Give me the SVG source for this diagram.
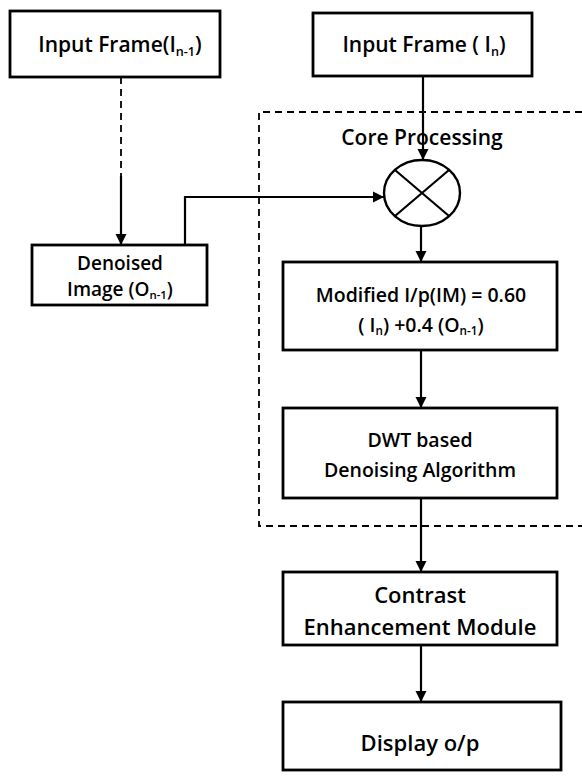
<svg xmlns="http://www.w3.org/2000/svg" width="582" height="776" viewBox="0 0 582 776">
<style>
.box{fill:#fff;stroke:#000;stroke-width:2.8}
.ln{fill:none;stroke:#000;stroke-width:2.2}
.dash{fill:none;stroke:#000;stroke-width:1.8;stroke-dasharray:7 5}
text{font-family:"Open Sans","Liberation Sans",sans-serif;font-weight:600;fill:#000;text-anchor:middle}
.t21{font-size:21px}
.t19d{font-size:19px}
.t22{font-size:22px}
.t19{font-size:19.5px}
.sub{font-size:0.6em}
</style>
<defs>
<marker id="ah" viewBox="0 0 10 10" refX="10" refY="5" markerWidth="5" markerHeight="5.5" orient="auto" markerUnits="strokeWidth">
<path d="M0,0 L10,5 L0,10 z" fill="#000"/>
</marker>
</defs>
<rect width="582" height="776" fill="#fff"/>
<g id="core-region">
<path class="dash" d="M582,112 H259 V526 H582"/>
<text class="t21" x="422" y="145">Core Processing</text>
</g>
<g id="connectors">
<path class="dash" d="M121,77 V176"/>
<path class="ln" d="M121,176 V245" marker-end="url(#ah)"/>
<path class="ln" d="M423,76 V160" marker-end="url(#ah)"/>
<path class="ln" d="M185,245 V197 H384" marker-end="url(#ah)"/>
<path class="ln" d="M421,226 V262" marker-end="url(#ah)"/>
<path class="ln" d="M421,350 V408" marker-end="url(#ah)"/>
<path class="ln" d="M421,498 V572" marker-end="url(#ah)"/>
<path class="ln" d="M421,645 V702" marker-end="url(#ah)"/>
</g>
<g id="input-prev">
<rect class="box" x="10" y="11" width="210" height="66"/>
<text class="t21" x="120" y="52">Input Frame(I<tspan class="sub" dy="4">n-1</tspan><tspan dy="-4">)</tspan></text>
</g>
<g id="input-cur">
<rect class="box" x="313" y="13" width="219" height="63"/>
<text class="t21" x="424" y="52">Input Frame ( I<tspan class="sub" dy="4">n</tspan><tspan dy="-4">)</tspan></text>
</g>
<g id="multiplier">
<ellipse cx="422" cy="193" rx="38" ry="33" fill="#fff" stroke="#000" stroke-width="2.4"/>
<path class="ln" d="M395,170 L449,216 M449,170 L395,216"/>
</g>
<g id="denoised">
<rect class="box" x="32" y="245" width="175" height="60"/>
<text class="t19d" x="120" y="270">Denoised</text>
<text class="t19d" x="120" y="296">Image (O<tspan class="sub" dy="3">n-1</tspan><tspan dy="-3">)</tspan></text>
</g>
<g id="modified">
<rect class="box" x="283" y="262" width="274" height="88"/>
<text class="t19" x="421" y="302">Modified I/p(IM) = 0.60</text>
<text class="t19" x="421" y="332">( I<tspan class="sub" dy="3">n</tspan><tspan dy="-3">) +0.4 (O</tspan><tspan class="sub" dy="3">n-1</tspan><tspan dy="-3">)</tspan></text>
</g>
<g id="dwt">
<rect class="box" x="283" y="408" width="274" height="90"/>
<text class="t19" x="420" y="447">DWT based</text>
<text class="t19" x="420" y="477">Denoising Algorithm</text>
</g>
<g id="contrast">
<rect class="box" x="283" y="572" width="274" height="73"/>
<text class="t22" x="420" y="603">Contrast</text>
<text class="t22" x="420" y="635">Enhancement Module</text>
</g>
<g id="display">
<rect class="box" x="283" y="702" width="278" height="68"/>
<text class="t22" x="420" y="751">Display o/p</text>
</g>
</svg>
